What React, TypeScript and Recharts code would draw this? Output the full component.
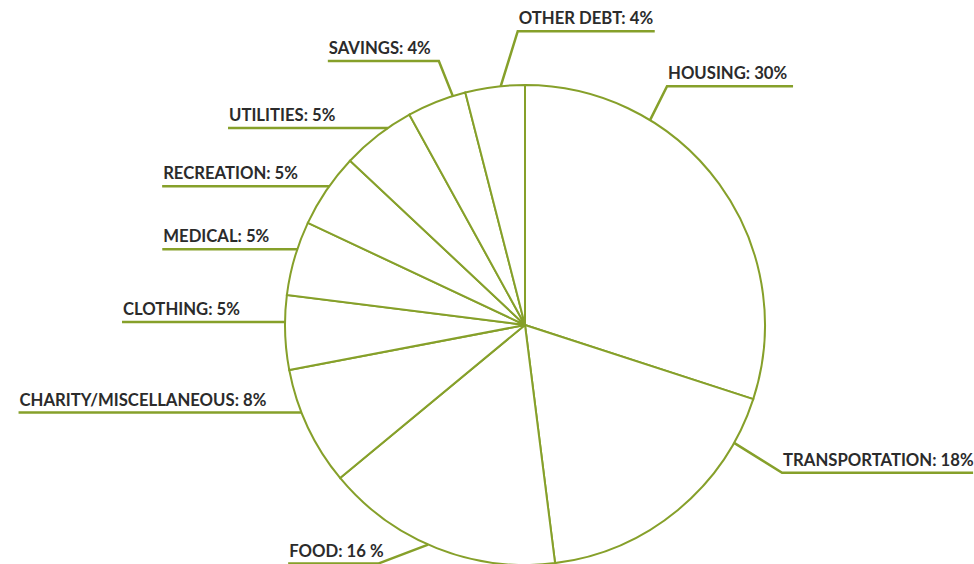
import { PieChart, Pie, Cell } from 'recharts';

const categories = [
  'HOUSING',
  'TRANSPORTATION',
  'FOOD',
  'CHARITY/MISCELLANEOUS',
  'CLOTHING',
  'MEDICAL',
  'RECREATION',
  'UTILITIES',
  'SAVINGS',
  'OTHER DEBT',
];

const shares = [30, 18, 16, 8, 5, 5, 5, 5, 4, 4];

const labelTexts = [
  'HOUSING: 30%',
  'TRANSPORTATION: 18%',
  'FOOD: 16 %',
  'CHARITY/MISCELLANEOUS: 8%',
  'CLOTHING: 5%',
  'MEDICAL: 5%',
  'RECREATION: 5%',
  'UTILITIES: 5%',
  'SAVINGS: 4%',
  'OTHER DEBT: 4%',
];

// leader layout: where it touches the rim (deg clockwise from top),
// elbow offset from that point, then horizontal run (negative = to the left)
const leaders = [
  { deg: 31.4, ex: 17, ey: -34, run: 126 },
  { deg: 119.4, ex: 48, ey: 30, run: 191 },
  { deg: 203.8, ex: -50, ey: 19, run: -90 },
  { deg: 248.6, ex: 0, ey: 0, run: -283 },
  { deg: 270.7, ex: 0, ey: 0, run: -163 },
  { deg: 288.4, ex: 0, ey: 0, run: -135 },
  { deg: 305.3, ex: 0, ey: 0, run: -167 },
  { deg: 325.2, ex: 0, ey: 0, run: -160 },
  { deg: 342.5, ex: -14, ey: -35, run: -111 },
  { deg: 354.2, ex: 17, ey: -55, run: 137 },
];

const data = categories.map((name, i) => ({ name, value: shares[i] }));

const green = '#86a02a';
const ink = '#2b2b2b';

const renderLabel = (props: any) => {
  const { cx, cy, outerRadius, index } = props;
  const l = leaders[index];
  const rad = (l.deg * Math.PI) / 180;
  const ax = cx + outerRadius * Math.sin(rad);
  const ay = cy - outerRadius * Math.cos(rad);
  const bx = ax + l.ex;
  const by = ay + l.ey;
  const endX = bx + l.run;
  const left = Math.min(bx, endX);
  return (
    <g key={`lbl-${index}`}>
      <polyline
        points={`${ax},${ay} ${bx},${by} ${endX},${by}`}
        fill="none"
        stroke={green}
        strokeWidth={2.5}
      />
      <text
        x={left + 1}
        y={by - 7}
        fill={ink}
        fontFamily="Lato, sans-serif"
        fontWeight={700}
        fontSize={16.7}
        textAnchor="start"
      >
        {labelTexts[index]}
      </text>
    </g>
  );
};

export default function App() {
  return (
    <div style={{ position: 'absolute', left: 0, top: 0, width: 974, height: 564, background: '#fff', overflow: 'hidden' }}>
      <PieChart width={974} height={564} margin={{ top: 0, right: 0, bottom: 0, left: 0 }}>
        <Pie
          data={data}
          dataKey="value"
          nameKey="name"
          cx={525}
          cy={325}
          outerRadius={240}
          startAngle={90}
          endAngle={-270}
          stroke={green}
          strokeWidth={2}
          label={renderLabel}
          labelLine={false}
          isAnimationActive={false}
        >
          {data.map((d, i) => (
            <Cell key={`cell-${i}`} fill="#ffffff" />
          ))}
        </Pie>
      </PieChart>
    </div>
  );
}
